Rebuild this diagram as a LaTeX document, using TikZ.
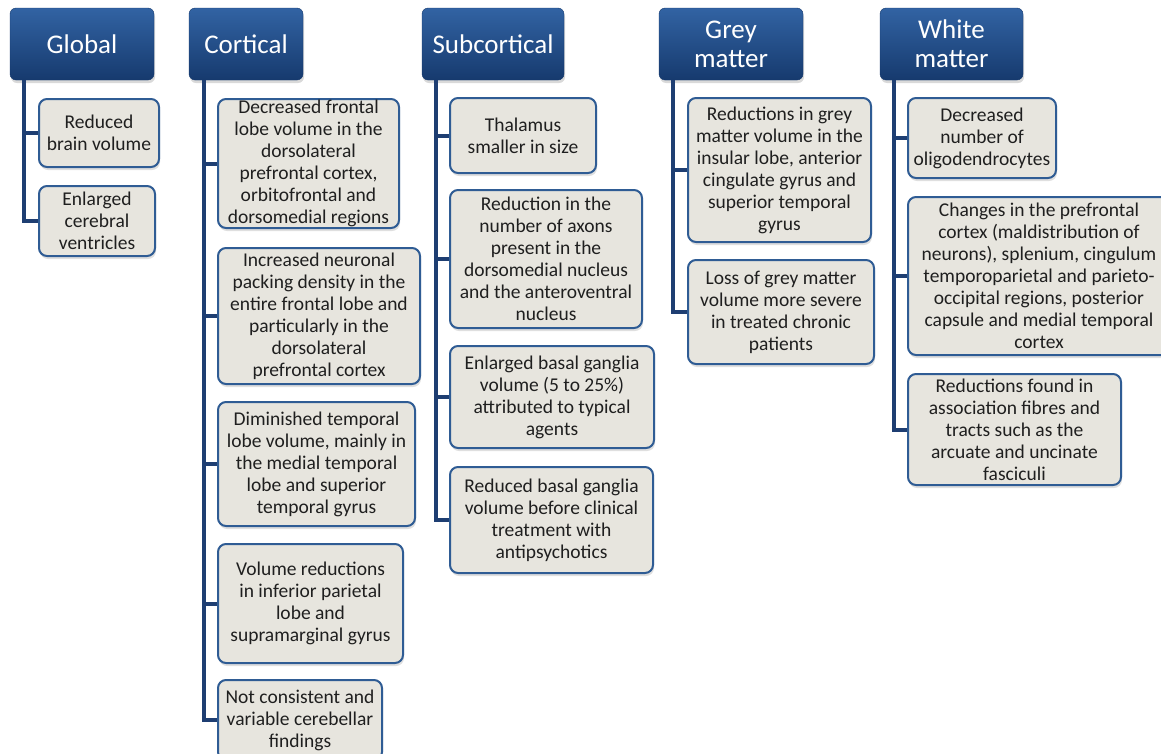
\documentclass[tikz,border=0pt]{standalone}
\usepackage{fontspec}
\setmainfont{Carlito}
\usetikzlibrary{shadows}
\definecolor{hdrtop}{HTML}{3263A3}
\definecolor{hdrmid}{HTML}{1E4C8C}
\definecolor{hdrbot}{HTML}{163A6E}
\definecolor{leaffill}{HTML}{E7E5DE}
\definecolor{leafline}{HTML}{2F5C94}
\definecolor{trunkblue}{HTML}{1E3E72}
\begin{document}
\begin{tikzpicture}[x=1pt,y=-1pt,
  head/.style={rounded corners=6pt,top color=hdrtop,middle color=hdrmid,bottom color=hdrbot,draw=hdrbot,
    text=white,align=center,minimum height=72pt,inner sep=0pt,
    font=\fontsize{27}{29}\selectfont,
    drop shadow={opacity=.3,shadow xshift=1pt,shadow yshift=-3pt}},
  leaf/.style={rounded corners=8pt,fill=leaffill,draw=leafline,line width=2pt,
    align=center,anchor=north west,inner xsep=2pt,inner ysep=0pt,text=black!88,
    font=\fontsize{19.5}{22}\selectfont,
    drop shadow={opacity=.25,shadow xshift=1pt,shadow yshift=-3pt}},
  conn/.style={draw=trunkblue,line width=4pt}]
\useasboundingbox (0,0) rectangle (1161,753);

% headers
\node[head,minimum width=144pt] (gl) at (82,44) {Global};
\node[head,minimum width=114pt] (co) at (246,44) {Cortical};
\node[head,minimum width=142pt] (sc) at (493,44) {Subcortical};
\node[head,minimum width=144pt] (gm) at (731,44) {Grey\\matter};
\node[head,minimum width=143pt] (wm) at (951.5,44) {White\\matter};

% global
\node[leaf,minimum width=120pt,minimum height=68pt] (gl1) at (38,98) {Reduced\\brain volume};
\node[leaf,minimum width=116pt,minimum height=70pt] (gl2) at (38,185) {Enlarged\\cerebral\\ventricles};

% cortical
\node[leaf,minimum width=181pt,minimum height=129pt] (co1) at (217,98) {Decreased frontal\\lobe volume in the\\dorsolateral\\prefrontal cortex,\\orbitofrontal and\\dorsomedial regions};
\node[leaf,minimum width=202pt,minimum height=136pt] (co2) at (217,247) {Increased neuronal\\packing density in the\\entire frontal lobe and\\particularly in the\\dorsolateral\\prefrontal cortex};
\node[leaf,minimum width=197pt,minimum height=124pt] (co3) at (217,401) {Diminished temporal\\lobe volume, mainly in\\the medial temporal\\lobe and superior\\temporal gyrus};
\node[leaf,minimum width=185pt,minimum height=119pt] (co4) at (217,543) {Volume reductions\\in inferior parietal\\lobe and\\supramarginal gyrus};
\node[leaf,minimum width=164pt,minimum height=80pt] (co5) at (217,679) {Not consistent and\\variable cerebellar\\findings};

% subcortical
\node[leaf,minimum width=146pt,minimum height=75pt] (sc1) at (449,97) {Thalamus\\smaller in size};
\node[leaf,minimum width=192pt,minimum height=138pt] (sc2) at (449,189) {Reduction in the\\number of axons\\present in the\\dorsomedial nucleus\\and the anteroventral\\nucleus};
\node[leaf,minimum width=204pt,minimum height=102pt] (sc3) at (449,345) {Enlarged basal ganglia\\volume (5 to 25\%)\\attributed to typical\\agents};
\node[leaf,minimum width=203pt,minimum height=106pt] (sc4) at (449,466) {Reduced basal ganglia\\volume before clinical\\treatment with\\antipsychotics};

% grey matter
\node[leaf,minimum width=183pt,minimum height=144pt] (gm1) at (687,97) {Reductions in grey\\matter volume in the\\insular lobe, anterior\\cingulate gyrus and\\superior temporal\\gyrus};
\node[leaf,minimum width=186pt,minimum height=104pt] (gm2) at (687,259) {Loss of grey matter\\volume more severe\\in treated chronic\\patients};

% white matter
\node[leaf,minimum width=148pt,minimum height=80pt] (wm1) at (907,97) {Decreased\\number of\\oligodendrocytes};
\node[leaf,minimum width=262pt,minimum height=158pt] (wm2) at (907,196) {Changes in the prefrontal\\cortex (maldistribution of\\neurons), splenium, cingulum\\temporoparietal and parieto-\\occipital regions, posterior\\capsule and medial temporal\\cortex};
\node[leaf,minimum width=213pt,minimum height=111pt] (wm3) at (907,373) {Reductions found in\\association fibres and\\tracts such as the\\arcuate and uncinate\\fasciculi};

% connectors
\foreach \k in {gl1,gl2} \draw[conn] ([xshift=14pt]gl.south west) |- (\k.west);
\foreach \k in {co1,co2,co3,co4,co5} \draw[conn] ([xshift=15pt]co.south west) |- (\k.west);
\foreach \k in {sc1,sc2,sc3,sc4} \draw[conn] ([xshift=14pt]sc.south west) |- (\k.west);
\foreach \k in {gm1,gm2} \draw[conn] ([xshift=14pt]gm.south west) |- (\k.west);
\foreach \k in {wm1,wm2,wm3} \draw[conn] ([xshift=14pt]wm.south west) |- (\k.west);
\end{tikzpicture}
\end{document}
